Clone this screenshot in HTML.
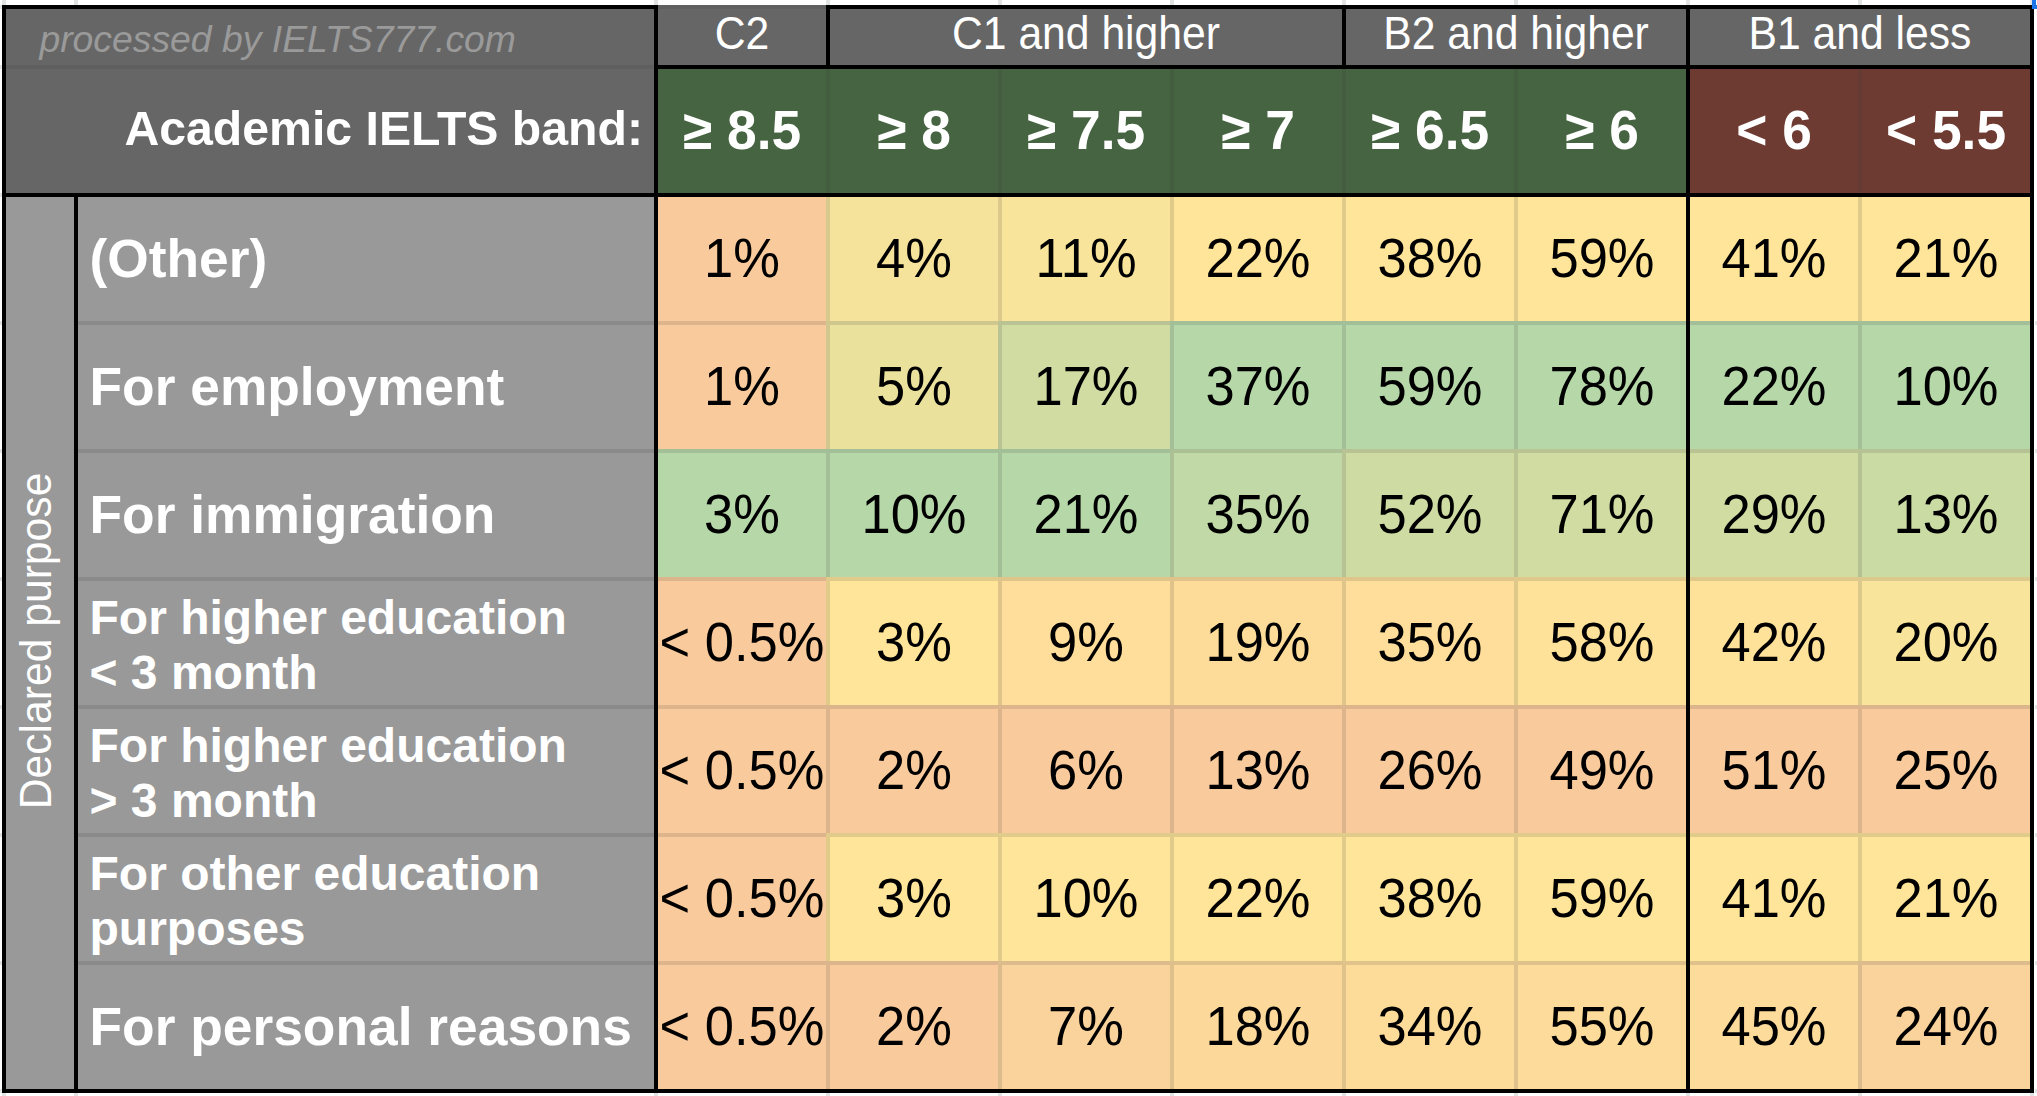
<!DOCTYPE html>
<html><head><meta charset="utf-8"><style>
html,body{margin:0;padding:0;background:#fff;width:2037px;height:1096px;overflow:hidden}
body>div{position:absolute;box-sizing:content-box}
.t{font-family:"Liberation Sans", sans-serif;white-space:nowrap}
</style></head><body>

<div style="left:2px;top:0px;width:4px;height:5px;background:#e2e3e3;"></div>
<div style="left:74px;top:0px;width:4px;height:5px;background:#e2e3e3;"></div>
<div style="left:654px;top:0px;width:4px;height:5px;background:#e2e3e3;"></div>
<div style="left:826px;top:0px;width:4px;height:5px;background:#e2e3e3;"></div>
<div style="left:998px;top:0px;width:4px;height:5px;background:#e2e3e3;"></div>
<div style="left:1170px;top:0px;width:4px;height:5px;background:#e2e3e3;"></div>
<div style="left:1342px;top:0px;width:4px;height:5px;background:#e2e3e3;"></div>
<div style="left:1514px;top:0px;width:4px;height:5px;background:#e2e3e3;"></div>
<div style="left:1686px;top:0px;width:4px;height:5px;background:#e2e3e3;"></div>
<div style="left:1858px;top:0px;width:4px;height:5px;background:#e2e3e3;"></div>
<div style="left:2030px;top:0px;width:4px;height:5px;background:#e2e3e3;"></div>
<div style="left:2px;top:1093px;width:4px;height:3px;background:#e2e3e3;"></div>
<div style="left:74px;top:1093px;width:4px;height:3px;background:#e2e3e3;"></div>
<div style="left:654px;top:1093px;width:4px;height:3px;background:#e2e3e3;"></div>
<div style="left:826px;top:1093px;width:4px;height:3px;background:#e2e3e3;"></div>
<div style="left:998px;top:1093px;width:4px;height:3px;background:#e2e3e3;"></div>
<div style="left:1170px;top:1093px;width:4px;height:3px;background:#e2e3e3;"></div>
<div style="left:1342px;top:1093px;width:4px;height:3px;background:#e2e3e3;"></div>
<div style="left:1514px;top:1093px;width:4px;height:3px;background:#e2e3e3;"></div>
<div style="left:1686px;top:1093px;width:4px;height:3px;background:#e2e3e3;"></div>
<div style="left:1858px;top:1093px;width:4px;height:3px;background:#e2e3e3;"></div>
<div style="left:2030px;top:1093px;width:4px;height:3px;background:#e2e3e3;"></div>
<div style="left:2035px;top:321px;width:2px;height:4px;background:#e2e3e3;"></div>
<div style="left:2035px;top:449px;width:2px;height:4px;background:#e2e3e3;"></div>
<div style="left:2035px;top:577px;width:2px;height:4px;background:#e2e3e3;"></div>
<div style="left:2035px;top:705px;width:2px;height:4px;background:#e2e3e3;"></div>
<div style="left:2035px;top:833px;width:2px;height:4px;background:#e2e3e3;"></div>
<div style="left:2035px;top:961px;width:2px;height:4px;background:#e2e3e3;"></div>
<div style="left:2035px;top:1089px;width:2px;height:4px;background:#e2e3e3;"></div>
<div style="left:0px;top:5px;width:2px;height:4px;background:#e2e3e3;"></div>
<div style="left:0px;top:65px;width:2px;height:4px;background:#e2e3e3;"></div>
<div style="left:0px;top:193px;width:2px;height:4px;background:#e2e3e3;"></div>
<div style="left:0px;top:321px;width:2px;height:4px;background:#e2e3e3;"></div>
<div style="left:0px;top:449px;width:2px;height:4px;background:#e2e3e3;"></div>
<div style="left:0px;top:577px;width:2px;height:4px;background:#e2e3e3;"></div>
<div style="left:0px;top:705px;width:2px;height:4px;background:#e2e3e3;"></div>
<div style="left:0px;top:833px;width:2px;height:4px;background:#e2e3e3;"></div>
<div style="left:0px;top:961px;width:2px;height:4px;background:#e2e3e3;"></div>
<div style="left:0px;top:1089px;width:2px;height:4px;background:#e2e3e3;"></div>
<div style="left:2px;top:5px;width:652px;height:60px;background:#666666;"></div>
<div style="left:2px;top:65px;width:652px;height:124px;background:#666666;border-top:4px solid rgba(58,58,58,0.152);"></div>
<div style="left:654px;top:5px;width:172px;height:56px;background:#666666;border-top:4px solid rgba(58,58,58,0.152);"></div>
<div style="left:826px;top:5px;width:516px;height:60px;background:#666666;"></div>
<div style="left:1342px;top:5px;width:344px;height:60px;background:#666666;"></div>
<div style="left:1686px;top:5px;width:344px;height:60px;background:#666666;"></div>
<div style="left:654px;top:65px;width:172px;height:128px;background:#466441;"></div>
<div style="left:826px;top:65px;width:168px;height:128px;background:#466441;border-left:4px solid rgba(58,58,58,0.152);"></div>
<div style="left:998px;top:65px;width:168px;height:128px;background:#466441;border-left:4px solid rgba(58,58,58,0.152);"></div>
<div style="left:1170px;top:65px;width:168px;height:128px;background:#466441;border-left:4px solid rgba(58,58,58,0.152);"></div>
<div style="left:1342px;top:65px;width:168px;height:128px;background:#466441;border-left:4px solid rgba(58,58,58,0.152);"></div>
<div style="left:1514px;top:65px;width:168px;height:128px;background:#466441;border-left:4px solid rgba(58,58,58,0.152);"></div>
<div style="left:1686px;top:65px;width:172px;height:128px;background:#6e3b33;"></div>
<div style="left:1858px;top:65px;width:168px;height:128px;background:#6e3b33;border-left:4px solid rgba(58,58,58,0.152);"></div>
<div style="left:2px;top:193px;width:72px;height:896px;background:#999999;"></div>
<div style="left:74px;top:193px;width:580px;height:128px;background:#999999;"></div>
<div style="left:654px;top:193px;width:172px;height:128px;background:#f9cb9c;"></div>
<div style="left:826px;top:193px;width:168px;height:128px;background:#f5e39b;border-left:4px solid rgba(58,58,58,0.152);"></div>
<div style="left:998px;top:193px;width:168px;height:128px;background:#f8e49a;border-left:4px solid rgba(58,58,58,0.152);"></div>
<div style="left:1170px;top:193px;width:168px;height:128px;background:#ffe599;border-left:4px solid rgba(58,58,58,0.152);"></div>
<div style="left:1342px;top:193px;width:168px;height:128px;background:#ffe599;border-left:4px solid rgba(58,58,58,0.152);"></div>
<div style="left:1514px;top:193px;width:168px;height:128px;background:#ffe599;border-left:4px solid rgba(58,58,58,0.152);"></div>
<div style="left:1686px;top:193px;width:172px;height:128px;background:#ffe599;"></div>
<div style="left:1858px;top:193px;width:168px;height:128px;background:#ffe599;border-left:4px solid rgba(58,58,58,0.152);"></div>
<div style="left:74px;top:321px;width:580px;height:124px;background:#999999;border-top:4px solid rgba(58,58,58,0.152);"></div>
<div style="left:654px;top:321px;width:172px;height:124px;background:#f9cb9c;border-top:4px solid rgba(58,58,58,0.152);"></div>
<div style="left:826px;top:321px;width:168px;height:124px;background:#eae19d;border-top:4px solid rgba(58,58,58,0.152);border-left:4px solid rgba(58,58,58,0.152);"></div>
<div style="left:998px;top:321px;width:168px;height:124px;background:#d1dca3;border-top:4px solid rgba(58,58,58,0.152);border-left:4px solid rgba(58,58,58,0.152);"></div>
<div style="left:1170px;top:321px;width:168px;height:124px;background:#b6d7a8;border-top:4px solid rgba(58,58,58,0.152);border-left:4px solid rgba(58,58,58,0.152);"></div>
<div style="left:1342px;top:321px;width:168px;height:124px;background:#b6d7a8;border-top:4px solid rgba(58,58,58,0.152);border-left:4px solid rgba(58,58,58,0.152);"></div>
<div style="left:1514px;top:321px;width:168px;height:124px;background:#b6d7a8;border-top:4px solid rgba(58,58,58,0.152);border-left:4px solid rgba(58,58,58,0.152);"></div>
<div style="left:1686px;top:321px;width:172px;height:124px;background:#b6d7a8;border-top:4px solid rgba(58,58,58,0.152);"></div>
<div style="left:1858px;top:321px;width:168px;height:124px;background:#b6d7a8;border-top:4px solid rgba(58,58,58,0.152);border-left:4px solid rgba(58,58,58,0.152);"></div>
<div style="left:74px;top:449px;width:580px;height:124px;background:#999999;border-top:4px solid rgba(58,58,58,0.152);"></div>
<div style="left:654px;top:449px;width:172px;height:124px;background:#b6d7a8;border-top:4px solid rgba(58,58,58,0.152);"></div>
<div style="left:826px;top:449px;width:168px;height:124px;background:#b6d7a8;border-top:4px solid rgba(58,58,58,0.152);border-left:4px solid rgba(58,58,58,0.152);"></div>
<div style="left:998px;top:449px;width:168px;height:124px;background:#b6d7a8;border-top:4px solid rgba(58,58,58,0.152);border-left:4px solid rgba(58,58,58,0.152);"></div>
<div style="left:1170px;top:449px;width:168px;height:124px;background:#c0d9a6;border-top:4px solid rgba(58,58,58,0.152);border-left:4px solid rgba(58,58,58,0.152);"></div>
<div style="left:1342px;top:449px;width:168px;height:124px;background:#cedca3;border-top:4px solid rgba(58,58,58,0.152);border-left:4px solid rgba(58,58,58,0.152);"></div>
<div style="left:1514px;top:449px;width:168px;height:124px;background:#d1dca2;border-top:4px solid rgba(58,58,58,0.152);border-left:4px solid rgba(58,58,58,0.152);"></div>
<div style="left:1686px;top:449px;width:172px;height:124px;background:#d1dca2;border-top:4px solid rgba(58,58,58,0.152);"></div>
<div style="left:1858px;top:449px;width:168px;height:124px;background:#cadba4;border-top:4px solid rgba(58,58,58,0.152);border-left:4px solid rgba(58,58,58,0.152);"></div>
<div style="left:74px;top:577px;width:580px;height:124px;background:#999999;border-top:4px solid rgba(58,58,58,0.152);"></div>
<div style="left:654px;top:577px;width:172px;height:124px;background:#f9cb9c;border-top:4px solid rgba(58,58,58,0.152);"></div>
<div style="left:826px;top:577px;width:168px;height:124px;background:#ffe599;border-top:4px solid rgba(58,58,58,0.152);border-left:4px solid rgba(58,58,58,0.152);"></div>
<div style="left:998px;top:577px;width:168px;height:124px;background:#fede9a;border-top:4px solid rgba(58,58,58,0.152);border-left:4px solid rgba(58,58,58,0.152);"></div>
<div style="left:1170px;top:577px;width:168px;height:124px;background:#fddc9a;border-top:4px solid rgba(58,58,58,0.152);border-left:4px solid rgba(58,58,58,0.152);"></div>
<div style="left:1342px;top:577px;width:168px;height:124px;background:#fede9a;border-top:4px solid rgba(58,58,58,0.152);border-left:4px solid rgba(58,58,58,0.152);"></div>
<div style="left:1514px;top:577px;width:168px;height:124px;background:#fee299;border-top:4px solid rgba(58,58,58,0.152);border-left:4px solid rgba(58,58,58,0.152);"></div>
<div style="left:1686px;top:577px;width:172px;height:124px;background:#fee299;border-top:4px solid rgba(58,58,58,0.152);"></div>
<div style="left:1858px;top:577px;width:168px;height:124px;background:#f8e49a;border-top:4px solid rgba(58,58,58,0.152);border-left:4px solid rgba(58,58,58,0.152);"></div>
<div style="left:74px;top:705px;width:580px;height:124px;background:#999999;border-top:4px solid rgba(58,58,58,0.152);"></div>
<div style="left:654px;top:705px;width:172px;height:124px;background:#f9cb9c;border-top:4px solid rgba(58,58,58,0.152);"></div>
<div style="left:826px;top:705px;width:168px;height:124px;background:#f9cb9c;border-top:4px solid rgba(58,58,58,0.152);border-left:4px solid rgba(58,58,58,0.152);"></div>
<div style="left:998px;top:705px;width:168px;height:124px;background:#f9cb9c;border-top:4px solid rgba(58,58,58,0.152);border-left:4px solid rgba(58,58,58,0.152);"></div>
<div style="left:1170px;top:705px;width:168px;height:124px;background:#f9cb9c;border-top:4px solid rgba(58,58,58,0.152);border-left:4px solid rgba(58,58,58,0.152);"></div>
<div style="left:1342px;top:705px;width:168px;height:124px;background:#f9cb9c;border-top:4px solid rgba(58,58,58,0.152);border-left:4px solid rgba(58,58,58,0.152);"></div>
<div style="left:1514px;top:705px;width:168px;height:124px;background:#f9cb9c;border-top:4px solid rgba(58,58,58,0.152);border-left:4px solid rgba(58,58,58,0.152);"></div>
<div style="left:1686px;top:705px;width:172px;height:124px;background:#f9cb9c;border-top:4px solid rgba(58,58,58,0.152);"></div>
<div style="left:1858px;top:705px;width:168px;height:124px;background:#f9cb9c;border-top:4px solid rgba(58,58,58,0.152);border-left:4px solid rgba(58,58,58,0.152);"></div>
<div style="left:74px;top:833px;width:580px;height:124px;background:#999999;border-top:4px solid rgba(58,58,58,0.152);"></div>
<div style="left:654px;top:833px;width:172px;height:124px;background:#f9cb9c;border-top:4px solid rgba(58,58,58,0.152);"></div>
<div style="left:826px;top:833px;width:168px;height:124px;background:#ffe599;border-top:4px solid rgba(58,58,58,0.152);border-left:4px solid rgba(58,58,58,0.152);"></div>
<div style="left:998px;top:833px;width:168px;height:124px;background:#ffe599;border-top:4px solid rgba(58,58,58,0.152);border-left:4px solid rgba(58,58,58,0.152);"></div>
<div style="left:1170px;top:833px;width:168px;height:124px;background:#ffe599;border-top:4px solid rgba(58,58,58,0.152);border-left:4px solid rgba(58,58,58,0.152);"></div>
<div style="left:1342px;top:833px;width:168px;height:124px;background:#ffe599;border-top:4px solid rgba(58,58,58,0.152);border-left:4px solid rgba(58,58,58,0.152);"></div>
<div style="left:1514px;top:833px;width:168px;height:124px;background:#ffe599;border-top:4px solid rgba(58,58,58,0.152);border-left:4px solid rgba(58,58,58,0.152);"></div>
<div style="left:1686px;top:833px;width:172px;height:124px;background:#ffe599;border-top:4px solid rgba(58,58,58,0.152);"></div>
<div style="left:1858px;top:833px;width:168px;height:124px;background:#ffe599;border-top:4px solid rgba(58,58,58,0.152);border-left:4px solid rgba(58,58,58,0.152);"></div>
<div style="left:74px;top:961px;width:580px;height:124px;background:#999999;border-top:4px solid rgba(58,58,58,0.152);"></div>
<div style="left:654px;top:961px;width:172px;height:124px;background:#f9cb9c;border-top:4px solid rgba(58,58,58,0.152);"></div>
<div style="left:826px;top:961px;width:168px;height:124px;background:#f9cb9c;border-top:4px solid rgba(58,58,58,0.152);border-left:4px solid rgba(58,58,58,0.152);"></div>
<div style="left:998px;top:961px;width:168px;height:124px;background:#fad29b;border-top:4px solid rgba(58,58,58,0.152);border-left:4px solid rgba(58,58,58,0.152);"></div>
<div style="left:1170px;top:961px;width:168px;height:124px;background:#fcd99a;border-top:4px solid rgba(58,58,58,0.152);border-left:4px solid rgba(58,58,58,0.152);"></div>
<div style="left:1342px;top:961px;width:168px;height:124px;background:#fddc9a;border-top:4px solid rgba(58,58,58,0.152);border-left:4px solid rgba(58,58,58,0.152);"></div>
<div style="left:1514px;top:961px;width:168px;height:124px;background:#fddb9a;border-top:4px solid rgba(58,58,58,0.152);border-left:4px solid rgba(58,58,58,0.152);"></div>
<div style="left:1686px;top:961px;width:172px;height:124px;background:#fddb9a;border-top:4px solid rgba(58,58,58,0.152);"></div>
<div style="left:1858px;top:961px;width:168px;height:124px;background:#fad29b;border-top:4px solid rgba(58,58,58,0.152);border-left:4px solid rgba(58,58,58,0.152);"></div>
<div style="left:2px;top:5px;width:656px;height:4px;background:#000;"></div>
<div style="left:826px;top:5px;width:1208px;height:4px;background:#000;"></div>
<div style="left:654px;top:65px;width:1380px;height:4px;background:#000;"></div>
<div style="left:2px;top:193px;width:2032px;height:4px;background:#000;"></div>
<div style="left:2px;top:1089px;width:2032px;height:4px;background:#000;"></div>
<div style="left:2px;top:5px;width:4px;height:1088px;background:#000;"></div>
<div style="left:74px;top:193px;width:4px;height:900px;background:#000;"></div>
<div style="left:654px;top:5px;width:4px;height:1088px;background:#000;"></div>
<div style="left:826px;top:5px;width:4px;height:64px;background:#000;"></div>
<div style="left:1342px;top:5px;width:4px;height:64px;background:#000;"></div>
<div style="left:1686px;top:5px;width:4px;height:1088px;background:#000;"></div>
<div style="left:2030px;top:5px;width:4px;height:1088px;background:#000;"></div>
<div style="left:2032px;top:0px;width:4px;height:9px;background:#1a73e8;"></div>
<div style="left:2032px;top:5px;width:5px;height:4px;background:#1a73e8;"></div>
<div class="t" style="left:39.4px;top:19.12px;width:660.6px;font-size:37.33px;line-height:41.70px;color:#9a9a9a;font-weight:400;font-style:italic;text-align:left;">processed by IELTS777.com</div>
<div class="t" style="left:658px;top:11.38px;width:168px;font-size:42.67px;line-height:47.66px;color:#fff;font-weight:400;font-style:normal;text-align:center;transform:scale(1,1.065);transform-origin:50% 38.62px;">C2</div>
<div class="t" style="left:830px;top:11.38px;width:512px;font-size:42.67px;line-height:47.66px;color:#fff;font-weight:400;font-style:normal;text-align:center;transform:scale(1,1.065);transform-origin:50% 38.62px;">C1 and higher</div>
<div class="t" style="left:1346px;top:11.38px;width:340px;font-size:42.67px;line-height:47.66px;color:#fff;font-weight:400;font-style:normal;text-align:center;transform:scale(1,1.065);transform-origin:50% 38.62px;">B2 and higher</div>
<div class="t" style="left:1690px;top:11.38px;width:340px;font-size:42.67px;line-height:47.66px;color:#fff;font-weight:400;font-style:normal;text-align:center;transform:scale(1,1.065);transform-origin:50% 38.62px;">B1 and less</div>
<div class="t" style="left:6px;top:101.78px;width:637px;font-size:48.2px;line-height:53.84px;color:#fff;font-weight:700;font-style:normal;text-align:right;">Academic IELTS band:</div>
<div class="t" style="left:658px;top:100.84px;width:168px;font-size:53.33px;line-height:59.57px;color:#fff;font-weight:700;font-style:normal;text-align:center;transform:scale(1,1.035);transform-origin:50% 48.26px;">≥ 8.5</div>
<div class="t" style="left:830px;top:100.84px;width:168px;font-size:53.33px;line-height:59.57px;color:#fff;font-weight:700;font-style:normal;text-align:center;transform:scale(1,1.035);transform-origin:50% 48.26px;">≥ 8</div>
<div class="t" style="left:1002px;top:100.84px;width:168px;font-size:53.33px;line-height:59.57px;color:#fff;font-weight:700;font-style:normal;text-align:center;transform:scale(1,1.035);transform-origin:50% 48.26px;">≥ 7.5</div>
<div class="t" style="left:1174px;top:100.84px;width:168px;font-size:53.33px;line-height:59.57px;color:#fff;font-weight:700;font-style:normal;text-align:center;transform:scale(1,1.035);transform-origin:50% 48.26px;">≥ 7</div>
<div class="t" style="left:1346px;top:100.84px;width:168px;font-size:53.33px;line-height:59.57px;color:#fff;font-weight:700;font-style:normal;text-align:center;transform:scale(1,1.035);transform-origin:50% 48.26px;">≥ 6.5</div>
<div class="t" style="left:1518px;top:100.84px;width:168px;font-size:53.33px;line-height:59.57px;color:#fff;font-weight:700;font-style:normal;text-align:center;transform:scale(1,1.035);transform-origin:50% 48.26px;">≥ 6</div>
<div class="t" style="left:1690px;top:100.84px;width:168px;font-size:53.33px;line-height:59.57px;color:#fff;font-weight:700;font-style:normal;text-align:center;transform:scale(1,1.035);transform-origin:50% 48.26px;">&lt; 6</div>
<div class="t" style="left:1862px;top:100.84px;width:168px;font-size:53.33px;line-height:59.57px;color:#fff;font-weight:700;font-style:normal;text-align:center;transform:scale(1,1.035);transform-origin:50% 48.26px;">&lt; 5.5</div>
<div class="t" style="left:89.5px;top:229.24px;width:564.5px;font-size:53.33px;line-height:59.57px;color:#fff;font-weight:700;font-style:normal;text-align:left;">(Other)</div>
<div class="t" style="left:658px;top:230.29px;width:168px;font-size:52.5px;line-height:58.64px;color:#000;font-weight:400;font-style:normal;text-align:center;transform:scale(1,1.055);transform-origin:50% 47.51px;">1%</div>
<div class="t" style="left:830px;top:230.29px;width:168px;font-size:52.5px;line-height:58.64px;color:#000;font-weight:400;font-style:normal;text-align:center;transform:scale(1,1.055);transform-origin:50% 47.51px;">4%</div>
<div class="t" style="left:1002px;top:230.29px;width:168px;font-size:52.5px;line-height:58.64px;color:#000;font-weight:400;font-style:normal;text-align:center;transform:scale(1,1.055);transform-origin:50% 47.51px;">11%</div>
<div class="t" style="left:1174px;top:230.29px;width:168px;font-size:52.5px;line-height:58.64px;color:#000;font-weight:400;font-style:normal;text-align:center;transform:scale(1,1.055);transform-origin:50% 47.51px;">22%</div>
<div class="t" style="left:1346px;top:230.29px;width:168px;font-size:52.5px;line-height:58.64px;color:#000;font-weight:400;font-style:normal;text-align:center;transform:scale(1,1.055);transform-origin:50% 47.51px;">38%</div>
<div class="t" style="left:1518px;top:230.29px;width:168px;font-size:52.5px;line-height:58.64px;color:#000;font-weight:400;font-style:normal;text-align:center;transform:scale(1,1.055);transform-origin:50% 47.51px;">59%</div>
<div class="t" style="left:1690px;top:230.29px;width:168px;font-size:52.5px;line-height:58.64px;color:#000;font-weight:400;font-style:normal;text-align:center;transform:scale(1,1.055);transform-origin:50% 47.51px;">41%</div>
<div class="t" style="left:1862px;top:230.29px;width:168px;font-size:52.5px;line-height:58.64px;color:#000;font-weight:400;font-style:normal;text-align:center;transform:scale(1,1.055);transform-origin:50% 47.51px;">21%</div>
<div class="t" style="left:89.5px;top:357.24px;width:564.5px;font-size:53.33px;line-height:59.57px;color:#fff;font-weight:700;font-style:normal;text-align:left;">For employment</div>
<div class="t" style="left:658px;top:358.29px;width:168px;font-size:52.5px;line-height:58.64px;color:#000;font-weight:400;font-style:normal;text-align:center;transform:scale(1,1.055);transform-origin:50% 47.51px;">1%</div>
<div class="t" style="left:830px;top:358.29px;width:168px;font-size:52.5px;line-height:58.64px;color:#000;font-weight:400;font-style:normal;text-align:center;transform:scale(1,1.055);transform-origin:50% 47.51px;">5%</div>
<div class="t" style="left:1002px;top:358.29px;width:168px;font-size:52.5px;line-height:58.64px;color:#000;font-weight:400;font-style:normal;text-align:center;transform:scale(1,1.055);transform-origin:50% 47.51px;">17%</div>
<div class="t" style="left:1174px;top:358.29px;width:168px;font-size:52.5px;line-height:58.64px;color:#000;font-weight:400;font-style:normal;text-align:center;transform:scale(1,1.055);transform-origin:50% 47.51px;">37%</div>
<div class="t" style="left:1346px;top:358.29px;width:168px;font-size:52.5px;line-height:58.64px;color:#000;font-weight:400;font-style:normal;text-align:center;transform:scale(1,1.055);transform-origin:50% 47.51px;">59%</div>
<div class="t" style="left:1518px;top:358.29px;width:168px;font-size:52.5px;line-height:58.64px;color:#000;font-weight:400;font-style:normal;text-align:center;transform:scale(1,1.055);transform-origin:50% 47.51px;">78%</div>
<div class="t" style="left:1690px;top:358.29px;width:168px;font-size:52.5px;line-height:58.64px;color:#000;font-weight:400;font-style:normal;text-align:center;transform:scale(1,1.055);transform-origin:50% 47.51px;">22%</div>
<div class="t" style="left:1862px;top:358.29px;width:168px;font-size:52.5px;line-height:58.64px;color:#000;font-weight:400;font-style:normal;text-align:center;transform:scale(1,1.055);transform-origin:50% 47.51px;">10%</div>
<div class="t" style="left:89.5px;top:485.24px;width:564.5px;font-size:53.33px;line-height:59.57px;color:#fff;font-weight:700;font-style:normal;text-align:left;">For immigration</div>
<div class="t" style="left:658px;top:486.29px;width:168px;font-size:52.5px;line-height:58.64px;color:#000;font-weight:400;font-style:normal;text-align:center;transform:scale(1,1.055);transform-origin:50% 47.51px;">3%</div>
<div class="t" style="left:830px;top:486.29px;width:168px;font-size:52.5px;line-height:58.64px;color:#000;font-weight:400;font-style:normal;text-align:center;transform:scale(1,1.055);transform-origin:50% 47.51px;">10%</div>
<div class="t" style="left:1002px;top:486.29px;width:168px;font-size:52.5px;line-height:58.64px;color:#000;font-weight:400;font-style:normal;text-align:center;transform:scale(1,1.055);transform-origin:50% 47.51px;">21%</div>
<div class="t" style="left:1174px;top:486.29px;width:168px;font-size:52.5px;line-height:58.64px;color:#000;font-weight:400;font-style:normal;text-align:center;transform:scale(1,1.055);transform-origin:50% 47.51px;">35%</div>
<div class="t" style="left:1346px;top:486.29px;width:168px;font-size:52.5px;line-height:58.64px;color:#000;font-weight:400;font-style:normal;text-align:center;transform:scale(1,1.055);transform-origin:50% 47.51px;">52%</div>
<div class="t" style="left:1518px;top:486.29px;width:168px;font-size:52.5px;line-height:58.64px;color:#000;font-weight:400;font-style:normal;text-align:center;transform:scale(1,1.055);transform-origin:50% 47.51px;">71%</div>
<div class="t" style="left:1690px;top:486.29px;width:168px;font-size:52.5px;line-height:58.64px;color:#000;font-weight:400;font-style:normal;text-align:center;transform:scale(1,1.055);transform-origin:50% 47.51px;">29%</div>
<div class="t" style="left:1862px;top:486.29px;width:168px;font-size:52.5px;line-height:58.64px;color:#000;font-weight:400;font-style:normal;text-align:center;transform:scale(1,1.055);transform-origin:50% 47.51px;">13%</div>
<div class="t" style="left:89.5px;top:590.76px;width:564.5px;font-size:48px;line-height:53.62px;color:#fff;font-weight:700;font-style:normal;text-align:left;">For higher education</div>
<div class="t" style="left:89.5px;top:646.26px;width:564.5px;font-size:48px;line-height:53.62px;color:#fff;font-weight:700;font-style:normal;text-align:left;">&lt; 3 month</div>
<div class="t" style="left:658px;top:614.29px;width:168px;font-size:52.5px;line-height:58.64px;color:#000;font-weight:400;font-style:normal;text-align:center;transform:scale(1,1.055);transform-origin:50% 47.51px;">&lt; 0.5%</div>
<div class="t" style="left:830px;top:614.29px;width:168px;font-size:52.5px;line-height:58.64px;color:#000;font-weight:400;font-style:normal;text-align:center;transform:scale(1,1.055);transform-origin:50% 47.51px;">3%</div>
<div class="t" style="left:1002px;top:614.29px;width:168px;font-size:52.5px;line-height:58.64px;color:#000;font-weight:400;font-style:normal;text-align:center;transform:scale(1,1.055);transform-origin:50% 47.51px;">9%</div>
<div class="t" style="left:1174px;top:614.29px;width:168px;font-size:52.5px;line-height:58.64px;color:#000;font-weight:400;font-style:normal;text-align:center;transform:scale(1,1.055);transform-origin:50% 47.51px;">19%</div>
<div class="t" style="left:1346px;top:614.29px;width:168px;font-size:52.5px;line-height:58.64px;color:#000;font-weight:400;font-style:normal;text-align:center;transform:scale(1,1.055);transform-origin:50% 47.51px;">35%</div>
<div class="t" style="left:1518px;top:614.29px;width:168px;font-size:52.5px;line-height:58.64px;color:#000;font-weight:400;font-style:normal;text-align:center;transform:scale(1,1.055);transform-origin:50% 47.51px;">58%</div>
<div class="t" style="left:1690px;top:614.29px;width:168px;font-size:52.5px;line-height:58.64px;color:#000;font-weight:400;font-style:normal;text-align:center;transform:scale(1,1.055);transform-origin:50% 47.51px;">42%</div>
<div class="t" style="left:1862px;top:614.29px;width:168px;font-size:52.5px;line-height:58.64px;color:#000;font-weight:400;font-style:normal;text-align:center;transform:scale(1,1.055);transform-origin:50% 47.51px;">20%</div>
<div class="t" style="left:89.5px;top:718.76px;width:564.5px;font-size:48px;line-height:53.62px;color:#fff;font-weight:700;font-style:normal;text-align:left;">For higher education</div>
<div class="t" style="left:89.5px;top:774.26px;width:564.5px;font-size:48px;line-height:53.62px;color:#fff;font-weight:700;font-style:normal;text-align:left;">&gt; 3 month</div>
<div class="t" style="left:658px;top:742.29px;width:168px;font-size:52.5px;line-height:58.64px;color:#000;font-weight:400;font-style:normal;text-align:center;transform:scale(1,1.055);transform-origin:50% 47.51px;">&lt; 0.5%</div>
<div class="t" style="left:830px;top:742.29px;width:168px;font-size:52.5px;line-height:58.64px;color:#000;font-weight:400;font-style:normal;text-align:center;transform:scale(1,1.055);transform-origin:50% 47.51px;">2%</div>
<div class="t" style="left:1002px;top:742.29px;width:168px;font-size:52.5px;line-height:58.64px;color:#000;font-weight:400;font-style:normal;text-align:center;transform:scale(1,1.055);transform-origin:50% 47.51px;">6%</div>
<div class="t" style="left:1174px;top:742.29px;width:168px;font-size:52.5px;line-height:58.64px;color:#000;font-weight:400;font-style:normal;text-align:center;transform:scale(1,1.055);transform-origin:50% 47.51px;">13%</div>
<div class="t" style="left:1346px;top:742.29px;width:168px;font-size:52.5px;line-height:58.64px;color:#000;font-weight:400;font-style:normal;text-align:center;transform:scale(1,1.055);transform-origin:50% 47.51px;">26%</div>
<div class="t" style="left:1518px;top:742.29px;width:168px;font-size:52.5px;line-height:58.64px;color:#000;font-weight:400;font-style:normal;text-align:center;transform:scale(1,1.055);transform-origin:50% 47.51px;">49%</div>
<div class="t" style="left:1690px;top:742.29px;width:168px;font-size:52.5px;line-height:58.64px;color:#000;font-weight:400;font-style:normal;text-align:center;transform:scale(1,1.055);transform-origin:50% 47.51px;">51%</div>
<div class="t" style="left:1862px;top:742.29px;width:168px;font-size:52.5px;line-height:58.64px;color:#000;font-weight:400;font-style:normal;text-align:center;transform:scale(1,1.055);transform-origin:50% 47.51px;">25%</div>
<div class="t" style="left:89.5px;top:846.76px;width:564.5px;font-size:48px;line-height:53.62px;color:#fff;font-weight:700;font-style:normal;text-align:left;">For other education</div>
<div class="t" style="left:89.5px;top:902.26px;width:564.5px;font-size:48px;line-height:53.62px;color:#fff;font-weight:700;font-style:normal;text-align:left;">purposes</div>
<div class="t" style="left:658px;top:870.29px;width:168px;font-size:52.5px;line-height:58.64px;color:#000;font-weight:400;font-style:normal;text-align:center;transform:scale(1,1.055);transform-origin:50% 47.51px;">&lt; 0.5%</div>
<div class="t" style="left:830px;top:870.29px;width:168px;font-size:52.5px;line-height:58.64px;color:#000;font-weight:400;font-style:normal;text-align:center;transform:scale(1,1.055);transform-origin:50% 47.51px;">3%</div>
<div class="t" style="left:1002px;top:870.29px;width:168px;font-size:52.5px;line-height:58.64px;color:#000;font-weight:400;font-style:normal;text-align:center;transform:scale(1,1.055);transform-origin:50% 47.51px;">10%</div>
<div class="t" style="left:1174px;top:870.29px;width:168px;font-size:52.5px;line-height:58.64px;color:#000;font-weight:400;font-style:normal;text-align:center;transform:scale(1,1.055);transform-origin:50% 47.51px;">22%</div>
<div class="t" style="left:1346px;top:870.29px;width:168px;font-size:52.5px;line-height:58.64px;color:#000;font-weight:400;font-style:normal;text-align:center;transform:scale(1,1.055);transform-origin:50% 47.51px;">38%</div>
<div class="t" style="left:1518px;top:870.29px;width:168px;font-size:52.5px;line-height:58.64px;color:#000;font-weight:400;font-style:normal;text-align:center;transform:scale(1,1.055);transform-origin:50% 47.51px;">59%</div>
<div class="t" style="left:1690px;top:870.29px;width:168px;font-size:52.5px;line-height:58.64px;color:#000;font-weight:400;font-style:normal;text-align:center;transform:scale(1,1.055);transform-origin:50% 47.51px;">41%</div>
<div class="t" style="left:1862px;top:870.29px;width:168px;font-size:52.5px;line-height:58.64px;color:#000;font-weight:400;font-style:normal;text-align:center;transform:scale(1,1.055);transform-origin:50% 47.51px;">21%</div>
<div class="t" style="left:89.5px;top:997.24px;width:564.5px;font-size:53.33px;line-height:59.57px;color:#fff;font-weight:700;font-style:normal;text-align:left;">For personal reasons</div>
<div class="t" style="left:658px;top:998.29px;width:168px;font-size:52.5px;line-height:58.64px;color:#000;font-weight:400;font-style:normal;text-align:center;transform:scale(1,1.055);transform-origin:50% 47.51px;">&lt; 0.5%</div>
<div class="t" style="left:830px;top:998.29px;width:168px;font-size:52.5px;line-height:58.64px;color:#000;font-weight:400;font-style:normal;text-align:center;transform:scale(1,1.055);transform-origin:50% 47.51px;">2%</div>
<div class="t" style="left:1002px;top:998.29px;width:168px;font-size:52.5px;line-height:58.64px;color:#000;font-weight:400;font-style:normal;text-align:center;transform:scale(1,1.055);transform-origin:50% 47.51px;">7%</div>
<div class="t" style="left:1174px;top:998.29px;width:168px;font-size:52.5px;line-height:58.64px;color:#000;font-weight:400;font-style:normal;text-align:center;transform:scale(1,1.055);transform-origin:50% 47.51px;">18%</div>
<div class="t" style="left:1346px;top:998.29px;width:168px;font-size:52.5px;line-height:58.64px;color:#000;font-weight:400;font-style:normal;text-align:center;transform:scale(1,1.055);transform-origin:50% 47.51px;">34%</div>
<div class="t" style="left:1518px;top:998.29px;width:168px;font-size:52.5px;line-height:58.64px;color:#000;font-weight:400;font-style:normal;text-align:center;transform:scale(1,1.055);transform-origin:50% 47.51px;">55%</div>
<div class="t" style="left:1690px;top:998.29px;width:168px;font-size:52.5px;line-height:58.64px;color:#000;font-weight:400;font-style:normal;text-align:center;transform:scale(1,1.055);transform-origin:50% 47.51px;">45%</div>
<div class="t" style="left:1862px;top:998.29px;width:168px;font-size:52.5px;line-height:58.64px;color:#000;font-weight:400;font-style:normal;text-align:center;transform:scale(1,1.055);transform-origin:50% 47.51px;">24%</div>
<div class="t" style="left:-263.6px;top:615.6px;width:600px;height:50px;font-size:42.67px;line-height:50px;color:#fff;text-align:center;transform:rotate(-90deg) scaleY(1.02);transform-origin:300px 25px">Declared purpose</div>
</body></html>
